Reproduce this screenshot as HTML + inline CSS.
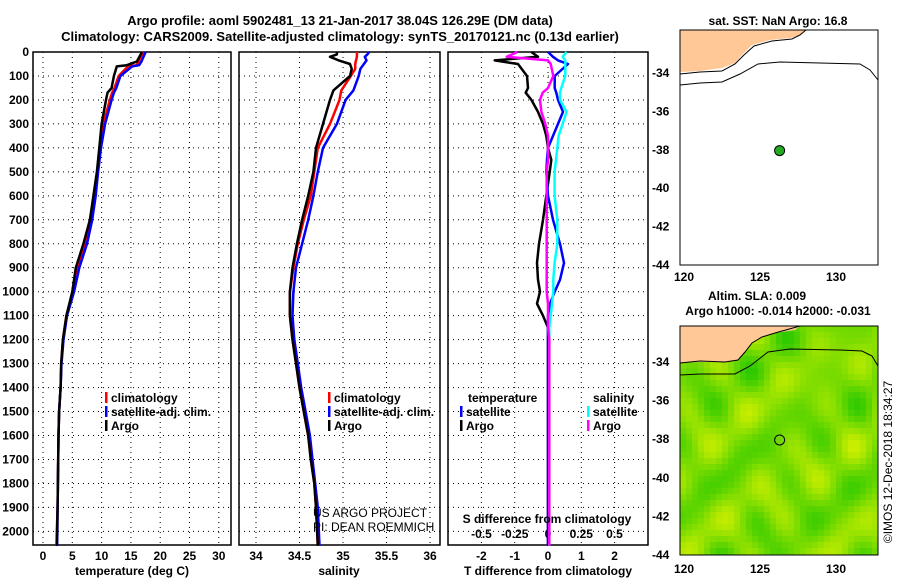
<!DOCTYPE html>
<html><head><meta charset="utf-8">
<style>
html,body{margin:0;padding:0;background:#fff;}
svg{display:block;font-family:"Liberation Sans",sans-serif;}
.b{font-weight:bold;font-size:12px;}
.t{font-weight:bold;font-size:13px;}
</style></head><body>
<svg id="fig" width="900" height="580" viewBox="0 0 900 580" xmlns="http://www.w3.org/2000/svg">
<text class="t" x="340" y="25" text-anchor="middle">Argo profile: aoml 5902481_13 21-Jan-2017 38.04S 126.29E (DM data)</text>
<text class="t" x="340" y="41" text-anchor="middle">Climatology: CARS2009. Satellite-adjusted climatology: synTS_20170121.nc (0.13d earlier)</text>
<g id="g1"></g>
<g id="g2"></g>
<g id="g3"></g>
<g id="yt"></g>
<text class="b" x="132" y="575" text-anchor="middle">temperature (deg C)</text>
<text class="b" x="339" y="575" text-anchor="middle">salinity</text>
<text class="b" x="548" y="575" text-anchor="middle">T difference from climatology</text>
<text class="b" x="547" y="523" text-anchor="middle">S difference from climatology</text>
<text x="313" y="517" font-size="12">US ARGO PROJECT</text>
<text x="313" y="531" font-size="12">PI: DEAN ROEMMICH</text>
<g id="maps"></g>
<text class="b" x="778" y="25" text-anchor="middle">sat. SST: NaN Argo: 16.8</text>
<text class="b" x="757" y="300" text-anchor="middle">Altim. SLA: 0.009</text>
<text class="b" x="778" y="315" text-anchor="middle">Argo h1000: -0.014 h2000: -0.031</text>
<text x="0" y="0" font-size="12" transform="translate(892,462) rotate(-90)" text-anchor="middle">©IMOS 12-Dec-2018 18:34:27</text>
</svg>
<script>
const NS="http://www.w3.org/2000/svg";
// ---- data ----
const depthTicks=[0,100,200,300,400,500,600,700,800,900,1000,1100,1200,1300,1400,1500,1600,1700,1800,1900,2000];
const tempTicks=[0,5,10,15,20,25,30];
const salTicks=[34,34.5,35,35.5,36];
const tdTicks=[-2,-1,0,1,2];
const sdTicks=[-0.5,-0.25,0,0.25,0.5];
const sdTickLabels=["-0.5","-0.25","0","0.25","0.5"];
const tDepth=[0,40,55,60,100,150,170,200,300,400,500,600,700,800,900,1000,1100,1200,1300,1400,1500,1600,1700,1800,1900,2000,2060];
const tArgo=[16.9,16.0,14.3,12.6,12.1,11.7,11.0,10.75,10.0,9.6,9.2,8.6,8.0,6.9,5.6,5.0,4.0,3.4,3.1,3.0,2.75,2.65,2.6,2.55,2.5,2.4,2.35];
const tClim=[17.1,16.3,16.0,14.5,12.9,12.2,11.8,11.4,10.3,9.8,9.25,8.8,8.1,7.2,5.9,5.1,4.0,3.4,3.1,3.0,2.75,2.65,2.6,2.55,2.5,2.35,2.3];
const tSat=[17.5,16.8,16.4,15.2,13.2,12.5,12.1,11.7,10.6,9.9,9.4,9.0,8.4,7.5,6.2,5.3,4.1,3.5,3.15,3.0,2.75,2.65,2.6,2.55,2.5,2.45,2.4];
const sDepth=[0,10,20,35,50,70,100,160,200,300,400,500,600,700,800,900,1000,1100,1200,1300,1400,1500,1600,1700,1800,1900,2060];
const sArgo=[34.93,34.93,34.85,34.95,35.08,35.1,35.08,34.89,34.85,34.77,34.69,34.66,34.60,34.53,34.47,34.42,34.39,34.39,34.42,34.46,34.50,34.55,34.60,34.63,34.67,34.69,34.71];
const sClim=[35.16,35.16,35.16,35.15,35.14,35.14,35.09,34.98,34.96,34.85,34.71,34.67,34.63,34.55,34.48,34.43,34.39,34.39,34.42,34.46,34.50,34.55,34.60,34.63,34.67,34.69,34.71];
const sSat=[35.30,35.28,35.25,35.27,35.24,35.20,35.18,35.12,35.03,34.93,34.77,34.71,34.66,34.60,34.53,34.46,34.43,34.42,34.44,34.48,34.52,34.57,34.62,34.65,34.68,34.71,34.73];
const dDepth=[0,20,35,50,100,150,170,200,250,300,350,400,450,500,600,700,800,880,950,1000,1050,1100,1150,1200,1400,1700,2060];
const tdArgo=[-0.5,-0.3,-1.6,-0.9,-0.63,-0.6,-0.67,-0.5,-0.3,-0.15,-0.05,0,0.1,0.05,-0.05,-0.15,-0.27,-0.33,-0.3,-0.24,-0.33,-0.15,0,0,0,0,0];
const tdSat=[0,0.15,0.3,0.6,0.2,0.2,0.25,0.3,0.45,0.3,0.15,0,-0.03,-0.05,0,0.15,0.36,0.48,0.36,0.2,0.06,0,0,0,0,0,0];
const sdSat=[0.14,0.11,0.13,0.13,0.13,0.1,0.09,0.09,0.14,0.11,0.08,0.07,0.06,0.05,0.05,0.07,0.07,0.05,0.04,0.04,0.03,0.02,0.01,0.01,0.01,0.01,0.01];
const sdArgo=[-0.23,-0.31,0,0.02,0.04,0,-0.04,-0.06,-0.05,-0.02,0,0,0,-0.01,-0.01,-0.01,-0.01,-0.01,-0.01,-0.01,0,0,0,0.01,0.01,0.01,0.01];
// ---- scales ----
const yD=d=>52+d*0.2397;
const xT=v=>43+v*5.86;
const xS=v=>256+(v-34)*87;
const xTD=v=>548+v*33.3;
const xSD=v=>548+v*133;
const P1={x0:33,x1:231},P2={x0:239,x1:440},P3={x0:448,x1:648},Y0=52,Y1=545;
function el(tag,attrs,parent){const e=document.createElementNS(NS,tag);for(const k in attrs)e.setAttribute(k,attrs[k]);parent.appendChild(e);return e;}
function frame(g,P,xticks,xf,labels,ly){
  el('rect',{x:P.x0,y:Y0,width:P.x1-P.x0,height:Y1-Y0,fill:'#fff',stroke:'#000','stroke-width':1.5},g);
  depthTicks.forEach(d=>{if(d===0)return;const l=el('line',{x1:P.x0,x2:P.x1,y1:yD(d),y2:yD(d),stroke:'#000','stroke-width':1,'stroke-dasharray':'1 4'},g);
    
    });
  xticks.forEach((v,i)=>{const x=xf(v);const l=el('line',{x1:x,x2:x,y1:Y0,y2:Y1,stroke:'#000','stroke-width':1,'stroke-dasharray':'1 4'},g);
    
    
    if(labels){const t=el('text',{x:x,y:ly,'text-anchor':'middle','class':'b'},g);t.textContent=labels[i];
    
    }});
}
function line(g,ds,vs,xf,color,name,w){
  const pts=ds.map((d,i)=>xf(vs[i]).toFixed(1)+','+yD(d).toFixed(1)).join(' ');
  const p=el('polyline',{points:pts,fill:'none',stroke:color,'stroke-width':w||2.5,'stroke-linejoin':'round'},g);
  
  
}
function legend(g,x,y,color,text){
  el('rect',{x:x,y:y-10,width:2.5,height:11,fill:color},g);
  const t=el('text',{x:x+6,y:y,'class':'b'},g);t.textContent=text;
  
  
}
const g1=document.getElementById('g1'),g2=document.getElementById('g2'),g3=document.getElementById('g3');
frame(g1,P1,tempTicks,xT,tempTicks.map(String),560);
frame(g2,P2,salTicks,xS,salTicks.map(String),560);
frame(g3,P3,tdTicks,xTD,tdTicks.map(String),560);
sdTicks.forEach((v,i)=>{const t=el('text',{x:xSD(v),y:538,'text-anchor':'middle','class':'b'},g3);t.textContent=sdTickLabels[i];
  
  });
line(g1,tDepth,tClim,xT,'#ff0000','temp-climatology-line');
line(g1,tDepth,tSat,xT,'#0000ff','temp-satellite-line');
line(g1,tDepth,tArgo,xT,'#000','temp-argo-line');
line(g2,sDepth,sSat,xS,'#0000ff','sal-satellite-line');
line(g2,sDepth,sClim,xS,'#ff0000','sal-climatology-line');
line(g2,sDepth,sArgo,xS,'#000','sal-argo-line');
line(g3,dDepth,tdArgo,xTD,'#000','tdiff-argo-line');
line(g3,dDepth,tdSat,xTD,'#0000ff','tdiff-satellite-line');
line(g3,dDepth,sdSat,xSD,'#00ffff','sdiff-satellite-line');
line(g3,dDepth,sdArgo,xSD,'#ff00ff','sdiff-argo-line');
legend(g1,105,402,'#ff0000','climatology');legend(g1,105,416,'#0000ff','satellite-adj. clim.');legend(g1,105,430,'#000','Argo');
legend(g2,328,402,'#ff0000','climatology');legend(g2,328,416,'#0000ff','satellite-adj. clim.');legend(g2,328,430,'#000','Argo');
(function(){const t=el('text',{x:468,y:402,'class':'b'},g3);t.textContent='temperature';
  
  
  const s=el('text',{x:593,y:402,'class':'b'},g3);s.textContent='salinity';
  
  })();
legend(g3,460,416,'#0000ff','satellite');legend(g3,460,430,'#000','Argo');
legend(g3,587,416,'#00ffff','satellite');legend(g3,587,430,'#ff00ff','Argo');
const yt=document.getElementById('yt');
depthTicks.forEach(d=>{const t=el('text',{x:29,y:yD(d)+4,'text-anchor':'end','class':'b'},yt);t.textContent=String(d);
  
  });
// ---- maps ----
const mg=document.getElementById('maps');
const lonTicks=[120,125,130],latTicks=[-34,-36,-38,-40,-42,-44];
const floatLon=126.29,floatLat=-38.04;
function mapFrame(name){
  const g=el('g',{},mg);return g;}
function mX(lon){return 684+(lon-120)*15.2;}
const topM={y34:73,yk:19.2};
const mY1=lat=>topM.y34+(-34-lat)*topM.yk;
const gt=mapFrame('sst-map');
el('rect',{x:680,y:30,width:198,height:235,fill:'#fff'},gt);
el('polygon',{points:'680,30 806,30 800,36 790,38 770,40 752,45 742,55 735,63 722,68 700,71 680,72',fill:'#ffc896'},gt);
el('polyline',{points:'680,74 700,72 722,71 735,64 744,55 754,46 772,41 792,39 800,35 806,30',fill:'none',stroke:'#000','stroke-width':1},gt);
el('polyline',{points:'680,85 700,83 722,82 740,74 758,64 780,62 820,63 860,64 870,70 878,80',fill:'none',stroke:'#000','stroke-width':1},gt);
el('rect',{x:680,y:30,width:198,height:235,fill:'none',stroke:'#000','stroke-width':1},gt);
el('circle',{cx:mX(floatLon),cy:mY1(floatLat),r:5,fill:'#22aa22',stroke:'#000','stroke-width':1},gt);
const botM={y34:362,yk:19.3};
const mY2=lat=>botM.y34+(-34-lat)*botM.yk;
const gb=mapFrame('sla-map');
const field=el('g',{},gb);
for(let x=680;x<878;x+=6){for(let y=326;y<555;y+=6){
  const v=Math.sin(x*0.09)*Math.cos(y*0.085)+0.6*Math.sin(x*0.041+y*0.067)+0.4*Math.cos(x*0.13-y*0.05);
  const f=(v+2)/4;const r=Math.round(40+f*170),gg=Math.round(200+f*40);
  el('rect',{x:x,y:y,width:Math.min(6.5,878-x),height:Math.min(6.5,555-y),fill:`rgb(${r},${gg},0)`},field);}}
el('polygon',{points:'680,326 800,326 795,330 775,333 762,337 752,343 745,352 738,360 725,362 700,362 680,363',fill:'#ffc896'},gb);
el('polyline',{points:'680,363 700,361 725,362 738,360 745,352 752,343 762,337 775,333 800,326',fill:'none',stroke:'#000','stroke-width':1},gb);
el('polyline',{points:'680,375 700,374 735,374 750,366 768,352 790,349 840,350 862,351 872,356 878,366',fill:'none',stroke:'#000','stroke-width':1},gb);
el('rect',{x:680,y:326,width:198,height:229,fill:'none',stroke:'#000','stroke-width':1},gb);
el('circle',{cx:mX(floatLon),cy:mY2(floatLat),r:5,fill:'none',stroke:'#000','stroke-width':1},gb);
[[mY1,281],[mY2,573]].forEach(([fy,ly])=>{
  lonTicks.forEach(l=>{const t=el('text',{x:mX(l),y:ly,'text-anchor':'middle',class:'b'},mg);t.textContent=String(l);
    
    });
  latTicks.forEach(l=>{const t=el('text',{x:652,y:fy(l)+4,class:'b'},mg);t.textContent=String(l);
    
    });
});
</script>
</body></html>
